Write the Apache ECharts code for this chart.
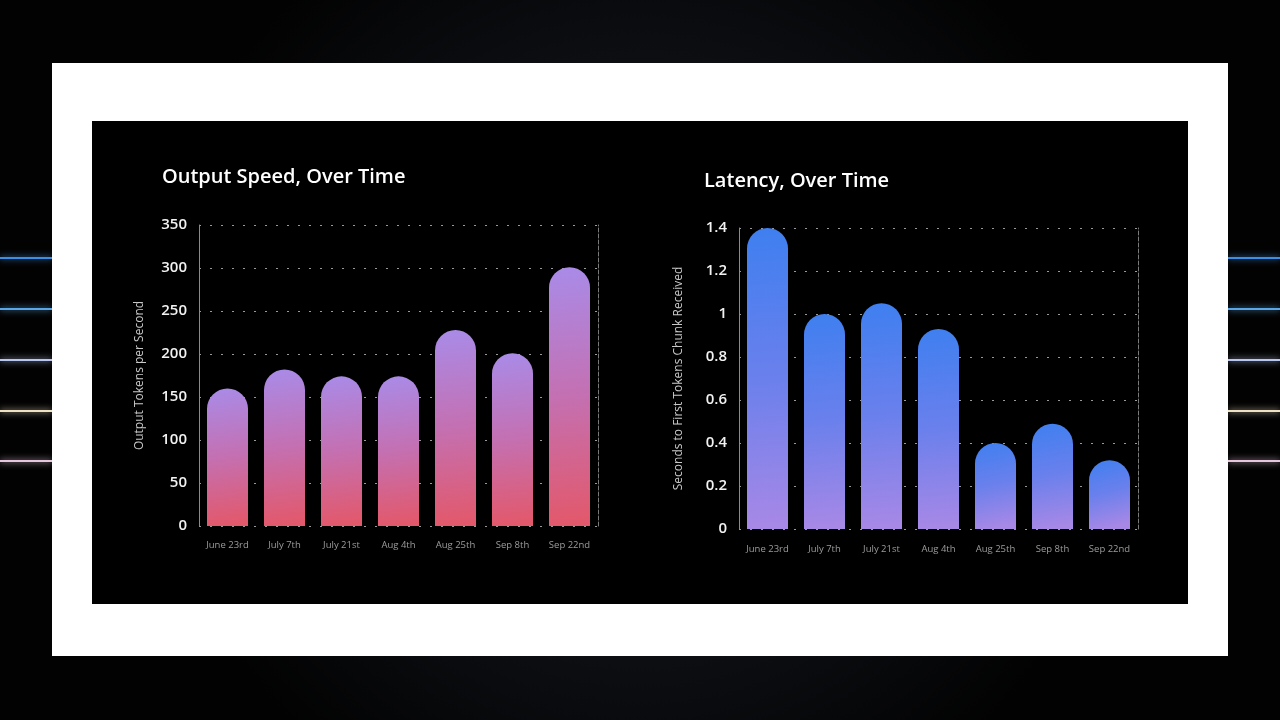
<!DOCTYPE html>
<html>
<head>
<meta charset="utf-8">
<script src="https://cdn.jsdelivr.net/npm/echarts@6/dist/echarts.min.js"></script>
<style>
html,body{margin:0;padding:0;background:#050506;}
#c{width:1280px;height:720px;}
</style>
</head>
<body>
<div id="c"></div>
<script>
const categories = ['June 23rd','July 7th','July 21st','Aug 4th','Aug 25th','Sep 8th','Sep 22nd'];
const speedValues = [160, 182, 174, 174, 228, 201, 301];
const latencyValues = [1.42, 1.0, 1.05, 0.93, 0.40, 0.49, 0.32];
const speedTicks = {min: 0, max: 350, interval: 50};
const latencyTicks = {min: 0, max: 1.4, interval: 0.2};
const titles = ['Output Speed, Over Time', 'Latency, Over Time'];
const axisNames = ['Output Tokens per Second', 'Seconds to First Tokens Chunk Received'];

const chart = echarts.init(document.getElementById('c'), null, {renderer: 'canvas'});
const FONT = 'Open Sans';

const neonYs = [258, 309, 360, 411, 461];
const neonColors = ['#3d8fe6', '#5ba6e6', '#b9c6ee', '#efe2c4', '#e6c6dc'];
const graphics = [
  {type: 'rect', shape: {x: 0, y: 0, width: 1280, height: 720}, style: {fill: new echarts.graphic.RadialGradient(0.5, 0.5, 0.7, [{offset:0,color:'#14161c'},{offset:0.6,color:'#0c0e12'},{offset:1,color:'#020202'}])}, z: -10}
];
neonYs.forEach((y, i) => {
  [[0, 52], [1228, 52]].forEach(([x, w]) => {
    graphics.push({type: 'rect', shape: {x: x, y: y - 1, width: w, height: 2}, style: {fill: neonColors[i], shadowBlur: 6, shadowColor: neonColors[i]}, z: -9});
  });
});
graphics.push({type: 'rect', shape: {x: 52, y: 63, width: 1176, height: 593}, style: {fill: '#ffffff'}, z: -8});
graphics.push({type: 'rect', shape: {x: 92, y: 121, width: 1096, height: 483}, style: {fill: '#000000'}, z: -7});

function yAxisCfg(gi, ticks, name, gap) {
  return {
    type: 'value', gridIndex: gi, min: ticks.min, max: ticks.max, interval: ticks.interval,
    name: name, nameLocation: 'middle', nameGap: gap,
    nameTextStyle: {color: '#c8c8c8', fontSize: 12, fontFamily: FONT},
    axisLine: {show: true, lineStyle: {color: '#8a8a8a', width: 1}},
    axisTick: {show: false},
    axisLabel: {color: '#f2f2f2', fontSize: 15, fontWeight: 600, fontFamily: FONT, margin: 12},
    splitLine: {show: true, lineStyle: {color: '#9a9a9a', type: [2, 9], width: 1}}
  };
}
function rightBorder(gi, ticks) {
  return {
    type: 'value', gridIndex: gi, position: 'right', min: ticks.min, max: ticks.max, interval: ticks.interval,
    axisLine: {show: true, lineStyle: {color: '#7a7a7a', width: 1, type: [4, 2]}},
    axisTick: {show: false}, axisLabel: {show: false}, splitLine: {show: false}
  };
}
function xAxisCfg(gi, margin) {
  return {
    type: 'category', gridIndex: gi, data: categories,
    axisLine: {show: false}, axisTick: {show: false},
    axisLabel: {color: '#9c9c9c', fontSize: 9.5, fontFamily: FONT, margin: margin, interval: 0}
  };
}

const speedGrad = new echarts.graphic.LinearGradient(0, 0, 0.45, 1, [
  {offset: 0, color: '#a98be8'}, {offset: 0.5, color: '#c470b2'}, {offset: 1, color: '#e3586a'}
]);
const latGrad = new echarts.graphic.LinearGradient(0, 0, 0.45, 1, [
  {offset: 0, color: '#3f7ff0'}, {offset: 0.5, color: '#6a80ec'}, {offset: 1, color: '#a888e6'}
]);

chart.setOption({
  animation: false,
  backgroundColor: 'transparent',
  graphic: graphics,
  title: [
    {text: titles[0], left: 162, top: 167, padding: 0, textStyle: {color: '#ffffff', fontSize: 20, fontWeight: 600, fontFamily: FONT}},
    {text: titles[1], left: 704, top: 171, padding: 0, textStyle: {color: '#ffffff', fontSize: 20, fontWeight: 600, fontFamily: FONT}}
  ],
  grid: [
    {left: 199, right: 682, top: 225, bottom: 194},
    {left: 739, right: 142, top: 228, bottom: 191}
  ],
  xAxis: [xAxisCfg(0, 14), xAxisCfg(1, 15)],
  yAxis: [yAxisCfg(0, speedTicks, axisNames[0], 53), yAxisCfg(1, latencyTicks, axisNames[1], 54), rightBorder(0, speedTicks), rightBorder(1, latencyTicks)],
  series: [
    {type: 'bar', xAxisIndex: 0, yAxisIndex: 0, data: speedValues, barWidth: 41,
     itemStyle: {color: speedGrad, borderRadius: [20.5, 20.5, 0, 0]}},
    {type: 'bar', xAxisIndex: 1, yAxisIndex: 1, data: latencyValues, barWidth: 41,
     itemStyle: {color: latGrad, borderRadius: [20.5, 20.5, 0, 0]}}
  ]
});
</script>
</body>
</html>
